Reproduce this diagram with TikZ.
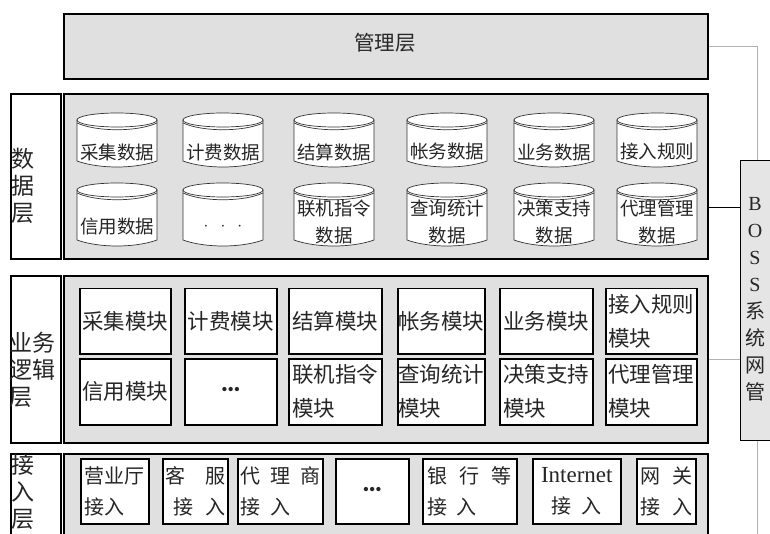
\documentclass[tikz,border=0pt]{standalone}
\usepackage{fontspec}
\setmainfont{Noto Sans CJK SC}
\newfontfamily\latn{Liberation Serif}
\definecolor{laygray}{gray}{0.88}
\definecolor{bossgray}{gray}{0.9}
\definecolor{txtc}{gray}{0.15}
\definecolor{linegray}{gray}{0.7}
\tikzset{
  layerbox/.style={draw=black, line width=1.6pt, fill=laygray, anchor=north west, inner sep=0pt},
  labelbox/.style={draw=black, line width=1.6pt, fill=white, anchor=north west, inner sep=0pt},
  bossbox/.style={draw=black, line width=1.2pt, fill=bossgray, anchor=north west, inner sep=0pt},
  modbox/.style={draw=black, line width=1.5pt, fill=white, anchor=north west, inner sep=0pt, align=left, text=txtc, font=\fontsize{21.5}{34}\selectfont},
  accbox/.style={draw=black, line width=1.5pt, fill=white, anchor=north west, inner sep=0pt, text=txtc, font=\fontsize{20}{31}\selectfont},
  cyltext/.style={inner sep=0pt, align=center, text=txtc, font=\fontsize{18.5}{27}\selectfont},
  cylline/.style={draw=black!80, line width=0.7pt, fill=white},
  lbltext/.style={inner sep=0pt, align=left, anchor=west, text=txtc, font=\fontsize{23}{27}\selectfont},
  conn/.style={draw=linegray, line width=0.9pt},
  darkconn/.style={draw=black, line width=1pt}
}
\newcommand\tbox[7]{\node[#1,minimum width=#4pt,minimum height=#5pt] (#6) at (#2,#3) {#7};}
\newcommand\mydots{{\latn\fontsize{18}{18}\selectfont\textbullet\textbullet\textbullet}}
\newcommand\dbcyl[6]{%
  \coordinate (#1) at (#2,#3);
  \begin{scope}[shift={(#2,#3)}]
    \path[cylline] (-40,8) -- (-40,#4-7) .. controls (-18,#4+1) and (18,#4+1) .. (40,#4-7) -- (40,8) -- cycle;
    \path[cylline] (0,8) ellipse [x radius=40, y radius=7];
    \draw[cylline, fill=none] (-40,11) .. controls (-20,20) and (20,20) .. (40,11);
  \end{scope}
  \node[cyltext] (#1-t) at (#2,#5) {#6};
}
\begin{document}
\begin{tikzpicture}[x=1pt,y=-1pt]
\path[use as bounding box] (0,0) rectangle (770,534);
\fill[white] (0,0) rectangle (770,534);
\clip (0,0) rectangle (770,534);

% management layer
\tbox{layerbox}{63}{13}{644}{65}{mgmt}{}
\node[text=txtc, font=\fontsize{20.5}{24}\selectfont] (mgmt-t) at (385,43) {管理层};

% data layer
\tbox{labelbox}{10}{93}{50}{165}{datalbl}{}
\node[lbltext] (datalbl-t) at (11,186) {数\\据\\层};
\tbox{layerbox}{63}{93}{644}{165}{data}{}
\dbcyl{c11}{117}{112}{56}{152}{采集数据}
\dbcyl{c12}{223}{112}{56}{152}{计费数据}
\dbcyl{c13}{334}{112}{56}{152}{结算数据}
\dbcyl{c14}{447}{112}{56}{152}{帐务数据}
\dbcyl{c15}{554}{112}{56}{152}{业务数据}
\dbcyl{c16}{657}{112}{56}{152}{接入规则}
\dbcyl{c21}{117}{182}{65}{227}{信用数据}
\dbcyl{c22}{223}{182}{65}{227}{$\cdot\ \ \cdot\ \ \cdot$}
\dbcyl{c23}{334}{182}{65}{221.5}{联机指令\\数据}
\dbcyl{c24}{447}{182}{65}{221.5}{查询统计\\数据}
\dbcyl{c25}{554}{182}{65}{221.5}{决策支持\\数据}
\dbcyl{c26}{657}{182}{65}{221.5}{代理管理\\数据}

% business logic layer
\tbox{labelbox}{10}{275}{50}{167}{bizlbl}{}
\node[lbltext] (bizlbl-t) at (9,370) {业务\\逻辑\\层};
\tbox{layerbox}{63}{275}{644}{167}{biz}{}
\tbox{modbox}{79}{288}{91}{65}{m11}{采集模块}
\tbox{modbox}{184}{288}{92}{65}{m12}{计费模块}
\tbox{modbox}{288}{288}{93}{65}{m13}{结算模块}
\tbox{modbox}{397}{288}{87}{65}{m14}{帐务模块}
\tbox{modbox}{499}{288}{93}{65}{m15}{业务模块}
\tbox{modbox}{605}{288}{91}{65}{m16}{接入规则\\模块}
\tbox{modbox}{79}{358}{91}{66}{m21}{信用模块}
\tbox{modbox}{184}{358}{92}{66}{m22}{\mydots}
\tbox{modbox}{288}{358}{93}{66}{m23}{联机指令\\模块}
\tbox{modbox}{397}{358}{87}{66}{m24}{查询统计\\模块}
\tbox{modbox}{499}{358}{93}{66}{m25}{决策支持\\模块}
\tbox{modbox}{605}{358}{91}{66}{m26}{代理管理\\模块}

% access layer
\tbox{labelbox}{10}{453}{50}{100}{acclbl}{}
\node[lbltext] (acclbl-t) at (11,492) {接\\入\\层};
\tbox{layerbox}{63}{453}{644}{100}{acc}{}
\tbox{accbox,align=left}{80}{458}{68}{65}{a1}{营业厅\\接入}
\tbox{accbox,align=right}{162}{458}{65}{65}{a2}{客\hspace{20pt}服\\接\hspace{12pt}入}
\tbox{accbox,align=left}{237}{458}{85}{65}{a3}{代\hspace{10pt}理\hspace{10pt}商\\接\hspace{10pt}入}
\tbox{accbox,align=center}{335}{458}{73}{65}{a4}{\mydots}
\tbox{accbox,align=left}{422}{458}{94}{65}{a5}{银\hspace{12pt}行\hspace{12pt}等\\接\hspace{9pt}入}
\tbox{accbox,align=center}{532}{458}{88}{65}{a6}{{\latn\fontsize{23}{31}\selectfont Internet}\\接\hspace{10pt}入}
\tbox{accbox,align=left}{636}{458}{59}{65}{a7}{网\hspace{12pt}关\\接\hspace{12pt}入}

% BOSS
\tbox{bossbox}{740}{160}{34}{280}{boss}{}
\node[inner sep=0pt, align=center, text=txtc, font=\fontsize{20}{27}\selectfont] (boss-t) at (755,299)
  {{\latn B}\\{\latn O}\\{\latn S}\\{\latn S}\\系\\统\\网\\管};

% connectors
\draw[conn] (mgmt.east) -| (boss.north);
\draw[darkconn] ([yshift=-31.5pt]data.east) coordinate (d1) -- (d1 -| boss.west);
\draw[conn] (biz.east) -- (biz.east -| boss.west);
\draw[conn] ([yshift=-38pt]acc.east) coordinate (a0) -| (boss.south);
\end{tikzpicture}
\end{document}
